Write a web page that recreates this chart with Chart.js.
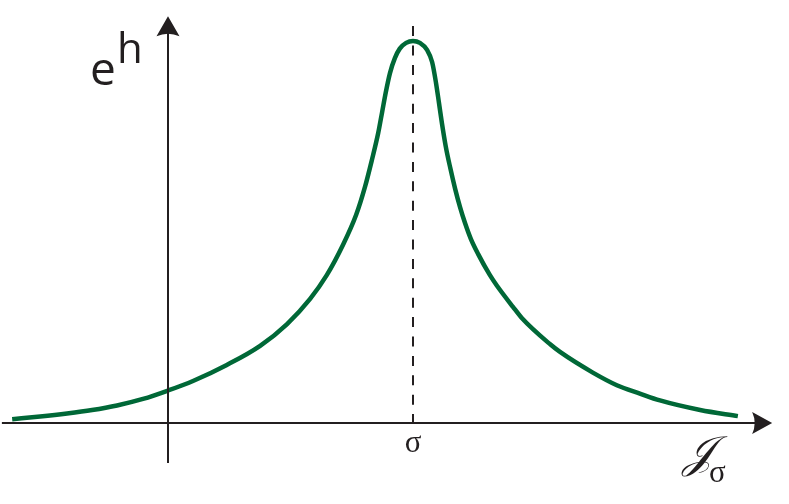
<!DOCTYPE html>
<html>
<head>
<meta charset="utf-8">
<script src="https://cdn.jsdelivr.net/npm/chart.js@4.4.1/dist/chart.umd.min.js"></script>
<style>
  html, body { margin: 0; padding: 0; background: #fff; }
  #wrap { width: 789px; height: 504px; position: relative; }
</style>
</head>
<body>
<div id="wrap"><canvas id="chart" width="789" height="504"></canvas></div>
<script>
// curve (x in units where sigma = 5, y = e^h, peak ~ 10)
const xValues = [-3.18, -2.61, -2.06, -1.55, -1.04, -0.51, 0, 0.51, 1.20, 1.88, 2.43, 2.90, 3.24, 3.57, 3.84, 4.02,
                 4.16, 4.29, 4.37, 4.45, 4.53, 4.63, 4.73, 4.86, 5.0,
                 5.14, 5.29, 5.39, 5.47, 5.53, 5.59, 5.67, 5.76, 5.86, 5.96, 6.06, 6.18, 6.33, 6.57, 6.71,
                 7.04, 7.22, 7.80, 8.0, 8.67, 9.16, 9.63, 10.04, 10.86, 11.63];
const ehValues = [0.10, 0.17, 0.25, 0.34, 0.46, 0.63, 0.85, 1.10, 1.52, 2.02, 2.59, 3.25, 3.87, 4.66, 5.45, 6.18,
                  6.88, 7.59, 8.14, 8.69, 9.16, 9.55, 9.80, 9.95, 10.0,
                  9.95, 9.76, 9.45, 8.90, 8.38, 7.85, 7.23, 6.68, 6.13, 5.65, 5.24, 4.82, 4.42, 3.87, 3.60,
                  3.04, 2.75, 2.06, 1.86, 1.32, 0.99, 0.77, 0.59, 0.34, 0.18];
const sigma = 5;
const xLabel = '𝒥';
const xLabelSub = 'σ';
const yLabel = 'e';
const yLabelSup = 'h';

const points = xValues.map((x, i) => ({ x: x, y: ehValues[i] }));

const ink = '#231f20';

const decor = {
  id: 'decor',
  afterDatasetsDraw(chart) {
    const { ctx, scales: { x, y } } = chart;
    const x0 = x.getPixelForValue(0);
    const y0 = y.getPixelForValue(0);
    const xs = x.getPixelForValue(sigma);
    ctx.save();
    ctx.strokeStyle = ink;
    ctx.fillStyle = ink;
    ctx.lineWidth = 2;

    // dashed line at sigma
    ctx.setLineDash([10, 9.4]);
    ctx.beginPath();
    ctx.moveTo(xs, y.getPixelForValue(10.39));
    ctx.lineTo(xs, y0);
    ctx.stroke();
    ctx.setLineDash([]);

    // x axis
    const xEnd = x.getPixelForValue(12.33);
    ctx.beginPath();
    ctx.moveTo(x.getPixelForValue(-3.39), y0);
    ctx.lineTo(xEnd - 10, y0);
    ctx.stroke();
    ctx.beginPath();
    ctx.moveTo(xEnd, y0);
    ctx.lineTo(xEnd - 20, y0 - 11);
    ctx.quadraticCurveTo(xEnd - 15, y0, xEnd - 20, y0 + 11);
    ctx.closePath();
    ctx.fill();

    // y axis
    const yTop = y.getPixelForValue(10.65);
    ctx.beginPath();
    ctx.moveTo(x0, y.getPixelForValue(-1.05));
    ctx.lineTo(x0, yTop + 10);
    ctx.stroke();
    ctx.beginPath();
    ctx.moveTo(x0, yTop);
    ctx.lineTo(x0 + 11.5, yTop + 20);
    ctx.quadraticCurveTo(x0, yTop + 15, x0 - 11.5, yTop + 20);
    ctx.closePath();
    ctx.fill();

    // labels
    ctx.textBaseline = 'alphabetic';
    ctx.textAlign = 'left';
    ctx.font = '46px "Open Sans"';
    ctx.fillText(yLabel, 90, 85);
    ctx.font = '42px "Open Sans"';
    ctx.fillText(yLabelSup, 117, 63);

    ctx.textAlign = 'center';
    ctx.font = '31px "Liberation Serif"';
    ctx.fillText('σ', xs, 452);

    ctx.textAlign = 'left';
    ctx.font = 'italic 44px "DejaVu Serif", "Noto Sans", serif';
    ctx.fillText(xLabel, 683, 467);
    ctx.font = '31px "Liberation Serif"';
    ctx.fillText(xLabelSub, 709, 482);
    ctx.restore();
  }
};

new Chart(document.getElementById('chart'), {
  type: 'line',
  data: {
    datasets: [{
      data: points,
      borderColor: '#006837',
      borderWidth: 4.5,
      pointRadius: 0,
      fill: false,
      cubicInterpolationMode: 'monotone',
      borderCapStyle: 'butt'
    }]
  },
  options: {
    responsive: false,
    animation: false,
    layout: { padding: 0 },
    plugins: { legend: { display: false }, tooltip: { enabled: false } },
    scales: {
      x: { type: 'linear', display: false, min: -168 / 49, max: 621 / 49 },
      y: { type: 'linear', display: false, min: -81 / 38.2, max: 423 / 38.2 }
    }
  },
  plugins: [decor]
});
</script>
</body>
</html>
